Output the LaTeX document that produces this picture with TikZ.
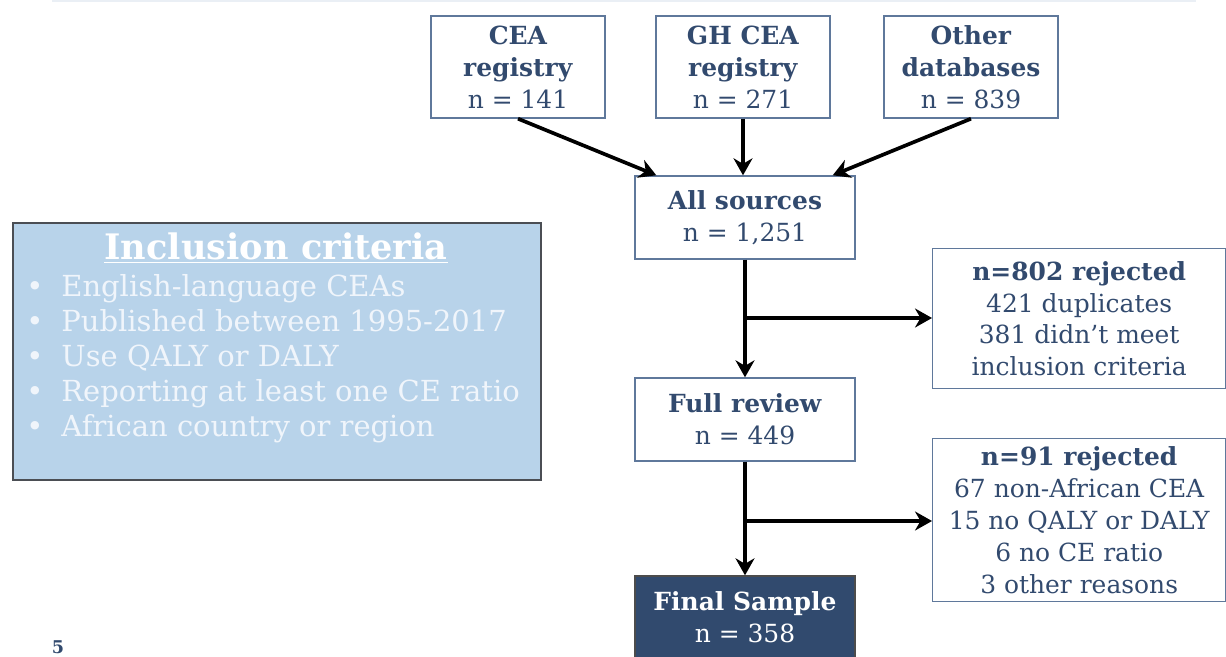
\documentclass[tikz,border=0pt]{standalone}
\usepackage{fontspec}
\setmainfont{DejaVu Serif}
\usepackage{tikz}
\usetikzlibrary{arrows.meta,positioning,calc}

\definecolor{txtblue}{RGB}{50,74,110}
\definecolor{boxline}{RGB}{95,120,155}
\definecolor{critfill}{RGB}{184,211,234}
\definecolor{critline}{RGB}{75,78,84}
\definecolor{crittext}{RGB}{240,245,251}
\definecolor{finalfill}{RGB}{49,74,110}
\definecolor{rulegray}{RGB}{234,239,245}

\newcommand\critem[1]{\makebox[0.74cm][l]{\hspace{0.04cm}\textbullet}#1}

\begin{document}
\begin{tikzpicture}[
    x=0.02cm, y=-0.02cm,
    >={Stealth[length=3.4mm,width=3.8mm]},
    flow/.style={draw=boxline, line width=0.8pt, align=center, text=txtblue,
                 font=\fontsize{14.2}{18.2}\selectfont, inner sep=0pt},
    src/.style={flow, minimum width=3.48cm, minimum height=2.04cm},
    stagebox/.style={flow, minimum width=4.4cm, minimum height=1.66cm},
    reject/.style={flow, minimum width=5.86cm, anchor=north west},
    finalbox/.style={stagebox, fill=finalfill, draw=black!70, text=white},
    arr/.style={->, line width=2.1pt},
]
\useasboundingbox (0,0) rectangle (1226,656);

% faint rule at the top
\draw[rulegray, line width=1.2pt] (52,1) -- (1196,1);

% --- Sources (top row) ---
\node[src] (cea)   at (518,67) {\textbf{CEA}\\\textbf{registry}\\n = 141};
\node[src] (ghcea) at (743,67) {\textbf{GH CEA}\\\textbf{registry}\\n = 271};
\node[src] (other) at (971,67) {\textbf{Other}\\\textbf{databases}\\n = 839};

% --- Main column ---
\node[stagebox] (allsrc) at (745,217.5) {\textbf{All sources}\\n = 1,251};
\node[stagebox] (fullrev) at (745,419.5) {\textbf{Full review}\\n = 449};
\node[finalbox] (final) at (745,617.5) {\textbf{Final Sample}\\n = 358};

% --- Rejections (right) ---
\node[reject, minimum height=2.8cm] (rej1) at (932,248)
     {\textbf{n=802 rejected}\\421 duplicates\\381 didn't meet\\inclusion criteria};
\node[reject, minimum height=3.26cm] (rej2) at (932,438)
     {\textbf{n=91 rejected}\\67 non-African CEA\\15 no QALY or DALY\\6 no CE ratio\\3 other reasons};

% --- Inclusion criteria (left) ---
\node[draw=critline, line width=1pt, fill=critfill, anchor=north west,
      minimum width=10.56cm, minimum height=5.14cm] (crit) at (12,222) {};
\node[text=white, font=\fontsize{20}{24}\selectfont\bfseries] (crittitle) at (276,248)
     {\underline{Inclusion criteria}};
\node[text=crittext, anchor=north west, align=left, inner sep=0pt,
      font=\fontsize{16.5}{19.9}\selectfont] (critlist) at (24,274)
     {\critem{English-language CEAs}\\
      \critem{Published between 1995-2017}\\
      \critem{Use QALY or DALY}\\
      \critem{Reporting at least one CE ratio}\\
      \critem{African country or region}};

% page number
\node[text=txtblue, font=\normalsize\bfseries, inner sep=0pt] (pagenum) at (58,647) {5};

% --- Connectors ---
\draw[arr] (cea.south) -- ([xshift=0.44cm]allsrc.north west);
\draw[arr] (ghcea.south) -- (ghcea.south |- allsrc.north);
\draw[arr] (other.south) -- ([xshift=-0.46cm]allsrc.north east);

\draw[arr] (allsrc) -- (fullrev);
\coordinate (split1) at (allsrc.south |- 0,318);
\draw[arr] (split1) -- (split1 -| rej1.west);

\draw[arr] (fullrev) -- (final);
\coordinate (split2) at (fullrev.south |- 0,521);
\draw[arr] (split2) -- (split2 -| rej2.west);

\end{tikzpicture}
\end{document}
